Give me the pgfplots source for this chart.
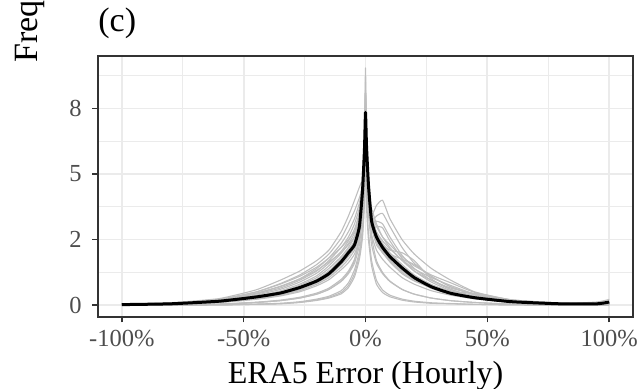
\documentclass[border=0pt]{standalone}
\usepackage{pgfplots}
\pgfplotsset{compat=1.18}
\usepackage{pgfplotstable}
\usepackage{fontspec}
\setmainfont{Liberation Serif}
\definecolor{gridgrey}{RGB}{235,235,235}
\definecolor{bordergrey}{RGB}{51,51,51}
\definecolor{ticktext}{RGB}{77,77,77}
\definecolor{lightline}{RGB}{190,190,190}

\pgfplotstableread{
x k g1 g2 g3 g4 g5 g6 g7 g8 g9 g10 g11 g12 g13 g14 g15 g16 g17 g18 g19 g20 g21 g22
-1.0 0.02 0.01 0.02 0.02 0.04 0.03 0.02 0 0.01 0.03 0.03 0.02 0.02 0.01 0.03 0 0.02 0.03 0.01 0.02 0.02 0.02 0
-0.8 0.05 0.02 0.05 0.05 0.09 0.07 0.04 0 0.02 0.08 0.07 0.05 0.05 0.04 0.08 0 0.06 0.07 0.02 0.05 0.04 0.06 0
-0.6 0.15 0.04 0.15 0.15 0.25 0.2 0.11 0.01 0.04 0.22 0.21 0.14 0.16 0.1 0.22 0.01 0.16 0.2 0.04 0.14 0.12 0.18 0.01
-0.45 0.31 0.10 0.31 0.32 0.58 0.42 0.24 0.03 0.10 0.5 0.45 0.3 0.33 0.22 0.5 0.04 0.34 0.45 0.11 0.29 0.26 0.38 0.03
-0.35 0.46 0.17 0.46 0.5 0.95 0.65 0.38 0.06 0.17 0.8 0.7 0.47 0.5 0.35 0.82 0.07 0.54 0.72 0.19 0.43 0.4 0.6 0.05
-0.27 0.67 0.27 0.67 0.75 1.3 0.95 0.55 0.11 0.27 1.1 1.0 0.7 0.72 0.51 1.15 0.13 0.8 1.0 0.3 0.62 0.59 0.88 0.1
-0.2 0.92 0.42 0.92 1.05 1.7 1.3 0.8 0.2 0.42 1.45 1.4 0.98 0.98 0.74 1.55 0.23 1.12 1.33 0.46 0.86 0.85 1.22 0.18
-0.15 1.2 0.6 1.2 1.4 2.1 1.7 1.05 0.3 0.6 1.8 1.8 1.3 1.3 0.97 1.95 0.34 1.5 1.65 0.65 1.12 1.12 1.6 0.27
-0.1 1.65 0.92 1.65 1.85 2.8 2.2 1.45 0.48 0.9 2.2 2.35 1.72 1.78 1.35 2.55 0.55 1.98 2.0 0.98 1.55 1.54 2.05 0.43
-0.07 2.0 1.25 2.0 2.2 3.4 2.6 1.75 0.75 1.2 2.5 2.8 2.05 2.12 1.62 3.1 0.85 2.35 2.3 1.3 1.9 1.86 2.45 0.67
-0.045 2.3 1.7 2.3 2.6 4.0 3.1 2.1 1.2 1.6 2.8 3.3 2.45 2.45 1.95 3.6 1.35 2.75 2.6 1.75 2.2 2.22 2.9 1.08
-0.025 3.0 2.6 3.0 3.4 4.5 3.7 2.7 1.9 2.3 3.2 3.9 3.2 3.2 2.55 4.1 2.05 3.6 3.0 2.5 2.85 2.85 3.5 1.75
-0.012 4.4 4.2 4.4 4.8 4.8 4.4 4.0 2.8 3.5 3.8 4.6 4.6 4.6 3.8 4.5 3.0 5.0 3.6 3.7 4.2 4.1 4.2 2.6
-0.004 6.0 6.8 6.0 6.3 5.2 5.6 5.8 4.2 5.2 4.8 5.8 6.1 6.1 5.6 5.0 4.4 6.4 4.6 5.4 5.9 5.9 5.4 4.0
0 7.35 9.05 8.2 7.8 6.2 7.0 7.5 6.5 7.2 6.0 7.6 8.0 7.0 8.5 6.8 6.0 7.3 6.5 8.0 7.7 6.8 7.9 7.0
0.004 6.1 6.8 6.1 5.0 5.5 5.2 6.0 5.4 6.3 3.8 5.2 5.8 6.0 5.3 6.2 5.2 4.2 5.9 6.2 5.6 6.2 6.4 6.0
0.012 4.6 4.2 4.6 3.7 4.3 3.8 4.4 3.9 4.8 2.5 3.5 4.0 4.3 4.1 4.6 3.7 2.8 4.4 4.5 4.4 4.8 5.0 4.4
0.025 3.2 2.6 3.2 3.4 3.5 3.2 3.1 3.1 3.4 1.5 2.3 2.7 3.0 3.3 3.25 2.9 1.7 3.0 3.2 3.7 3.4 3.55 3.0
0.045 2.6 1.7 2.6 3.8 3.0 3.4 2.6 3.2 2.6 0.8 1.6 2.1 2.4 2.8 2.5 3.0 0.95 2.45 2.55 3.1 2.75 2.7 2.3
0.07 2.2 1.25 2.2 4.0 2.6 3.5 2.3 3.1 2.2 0.48 1.2 1.75 2.0 2.45 2.1 2.95 0.58 2.05 2.2 2.6 2.35 2.3 2.0
0.1 1.85 0.92 1.85 3.3 2.3 3.0 2.1 2.6 1.85 0.32 0.9 1.45 1.7 2.15 1.78 2.45 0.38 1.72 1.95 2.2 2.0 1.95 1.65
0.15 1.42 0.6 1.42 2.5 1.85 2.2 2.0 1.9 1.4 0.19 0.6 1.05 1.25 1.72 1.35 1.78 0.23 1.32 1.75 1.7 1.55 1.48 1.2
0.2 1.05 0.42 1.05 1.95 1.5 1.6 1.7 1.4 1.05 0.12 0.42 0.8 0.95 1.38 1.0 1.3 0.15 0.97 1.55 1.3 1.15 1.1 0.92
0.27 0.7 0.27 0.7 1.4 1.15 1.1 1.0 0.95 0.75 0.07 0.27 0.55 0.68 1.05 0.72 0.88 0.09 0.64 1.1 0.95 0.78 0.78 0.67
0.35 0.45 0.17 0.45 0.95 0.85 0.7 0.6 0.6 0.5 0.05 0.17 0.38 0.5 0.75 0.48 0.55 0.06 0.41 0.7 0.65 0.5 0.52 0.46
0.45 0.28 0.10 0.28 0.5 0.48 0.38 0.34 0.32 0.32 0.03 0.10 0.24 0.45 0.42 0.3 0.3 0.03 0.25 0.4 0.42 0.31 0.33 0.31
0.6 0.13 0.04 0.13 0.2 0.2 0.15 0.14 0.13 0.15 0.01 0.04 0.11 0.18 0.17 0.14 0.12 0.01 0.12 0.16 0.2 0.14 0.16 0.15
0.8 0.05 0.02 0.05 0.07 0.08 0.05 0.05 0.04 0.05 0 0.02 0.04 0.06 0.07 0.05 0.04 0 0.05 0.05 0.07 0.05 0.06 0.05
0.95 0.05 0.01 0.05 0.05 0.05 0.03 0.03 0.03 0.03 0 0.01 0.02 0.12 0.04 0.03 0.03 0 0.04 0.03 0.04 0.05 0.03 0.03
1.0 0.12 0.01 0.1 0.06 0.05 0.03 0.03 0.03 0.02 0 0.01 0.02 0.22 0.04 0.02 0.03 0 0.08 0.03 0.03 0.1 0.02 0.02
}\errdata

\begin{document}
\begin{tikzpicture}
\useasboundingbox (0,0) rectangle (319pt,194.5pt);
\clip (0,0) rectangle (319pt,194.5pt);
\begin{axis}[
  at={(49pt,36pt)}, anchor=south west,
  width=267.5pt, height=130.5pt, scale only axis,
  xmin=-1.0975, xmax=1.0975, ymin=-0.4525, ymax=9.5025,
  xtick={-1,-0.5,0,0.5,1}, xticklabels={-100\%,-50\%,0\%,50\%,100\%},
  ytick={0,2.5,5,7.5}, yticklabels={0,2,5,8},
  minor xtick={-0.75,-0.25,0.25,0.75}, minor ytick={1.25,3.75,6.25,8.75},
  grid=both,
  major grid style={gridgrey, line width=0.9pt},
  minor grid style={gridgrey, line width=0.45pt},
  axis line style={bordergrey, line width=0.8pt},
  tick style={bordergrey, line width=0.8pt},
  tick align=outside, major tick length=2.75pt, minor tick length=0pt,
  xtick pos=bottom, ytick pos=left,
  /pgf/number format/assume math mode=true,
  ticklabel style={font=\fontsize{12.25}{14}\selectfont, text=ticktext},
  xticklabel style={anchor=base, inner sep=0pt, yshift=-12.15pt},
  yticklabel style={anchor=east, inner sep=0pt, xshift=-5.25pt},
  xlabel={ERA5 Error (Hourly)},
  xlabel style={font=\fontsize{16}{19}\selectfont, at={(axis description cs:0.5,0)}, anchor=base, inner sep=0pt, yshift=-33.5pt},
  every axis title shift=0pt,
  title={(c)},
  title style={font=\fontsize{17}{20}\selectfont, at={(axis description cs:0,1)}, anchor=base west, inner sep=0pt, yshift=12pt},
  clip=true,
]
\pgfplotsinvokeforeach{1,...,22}{
  \addplot[lightline, line width=0.55pt, no markers, line join=round, smooth, tension=0.3] table[x=x, y=g#1] {\errdata};
}
\addplot[black, line width=1.5pt, no markers, line join=round, smooth, tension=0.3] table[x=x, y=k] {\errdata};
\end{axis}
\node[rotate=90, anchor=base west, inner sep=0pt, font=\fontsize{17}{20}\selectfont] at (19pt,163pt) {Frequency};
\end{tikzpicture}
\end{document}
